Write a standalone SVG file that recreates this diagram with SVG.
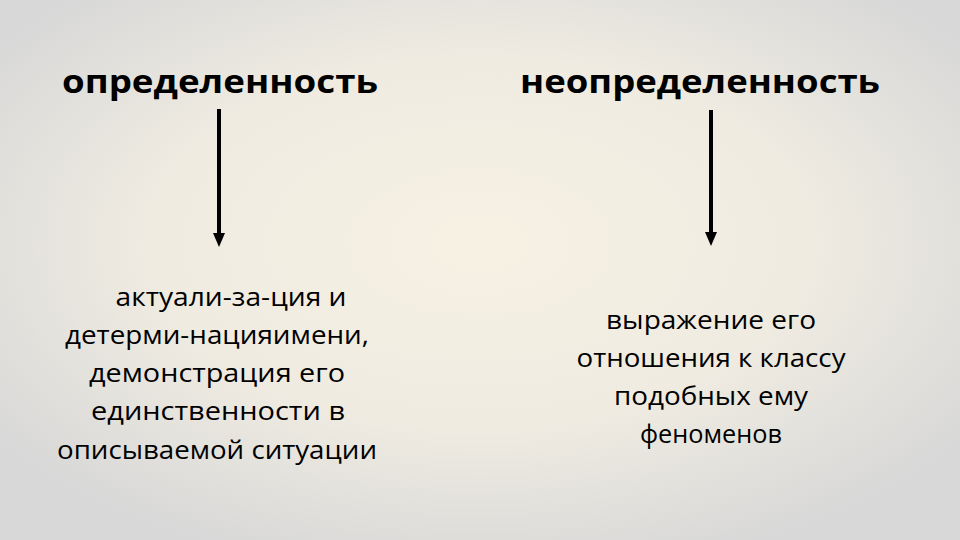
<svg xmlns="http://www.w3.org/2000/svg" width="960" height="540" viewBox="0 0 960 540">
<defs>
<radialGradient id="bg" cx="0.5" cy="0.45" r="0.62">
<stop offset="0" stop-color="#f6f1e3"/>
<stop offset="0.55" stop-color="#efebe1"/>
<stop offset="1" stop-color="#d8d8d8"/>
</radialGradient>
<marker id="ah" viewBox="0 0 14 12" refX="2" refY="6" markerWidth="14" markerHeight="12" markerUnits="userSpaceOnUse" orient="auto">
<path d="M0,0 L14,6 L0,12 Z" fill="#000"/>
</marker>
<style>
.h{font-family:"Open Sans","Noto Sans","DejaVu Sans",sans-serif;font-weight:bold;font-size:32px;fill:#000;text-anchor:middle}
.t{font-family:"Open Sans","Noto Sans","DejaVu Sans",sans-serif;font-size:26px;fill:#000;text-anchor:middle}
.c{stroke:#000;stroke-width:4;fill:none}
</style>
</defs>
<rect width="960" height="540" fill="url(#bg)"/>
<g id="n1"><text class="h" x="220" y="93" textLength="316" lengthAdjust="spacingAndGlyphs">определенность</text></g>
<g id="n2"><text class="h" x="700" y="93" textLength="360" lengthAdjust="spacingAndGlyphs">неопределенность</text></g>
<g id="n3">
<text class="t" x="231" y="306" textLength="231" lengthAdjust="spacingAndGlyphs">актуали-за-ция и</text>
<text class="t" x="217" y="344" textLength="304" lengthAdjust="spacingAndGlyphs">детерми-нацияимени,</text>
<text class="t" x="217" y="382" textLength="256" lengthAdjust="spacingAndGlyphs">демонстрация его</text>
<text class="t" x="218" y="420" textLength="254" lengthAdjust="spacingAndGlyphs">единственности в</text>
<text class="t" x="217" y="459" textLength="320" lengthAdjust="spacingAndGlyphs">описываемой ситуации</text>
</g>
<g id="n4">
<text class="t" x="711" y="329" textLength="210" lengthAdjust="spacingAndGlyphs">выражение его</text>
<text class="t" x="711" y="367" textLength="269" lengthAdjust="spacingAndGlyphs">отношения к классу</text>
<text class="t" x="711" y="405" textLength="194" lengthAdjust="spacingAndGlyphs">подобных ему</text>
<text class="t" x="711" y="443" textLength="142" lengthAdjust="spacingAndGlyphs">феноменов</text>
</g>
<g id="connectors">
<line class="c" x1="219" y1="109" x2="219" y2="235" marker-end="url(#ah)"/>
<line class="c" x1="711" y1="110" x2="711" y2="234" marker-end="url(#ah)"/>
</g>
</svg>
